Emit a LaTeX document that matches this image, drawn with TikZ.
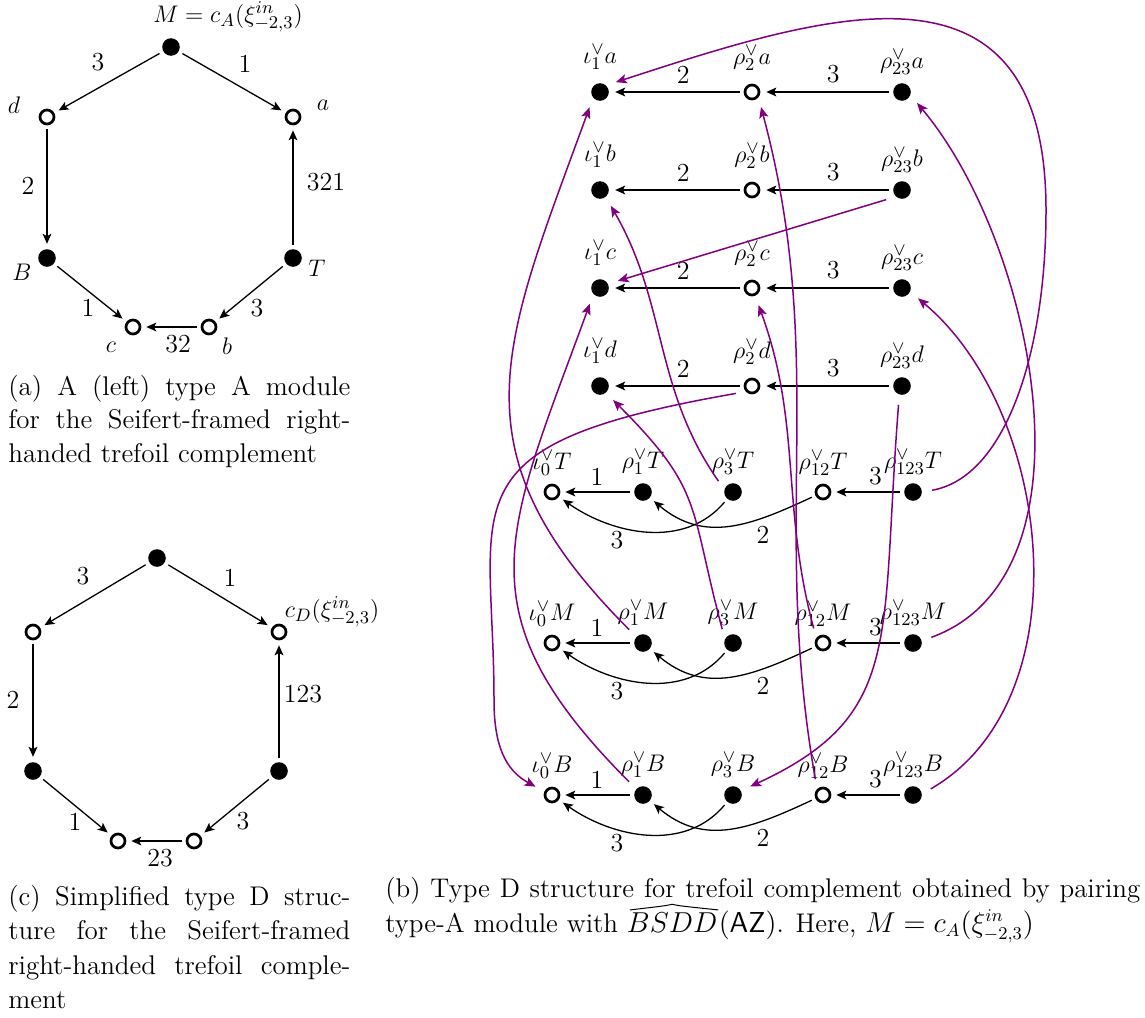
\documentclass[tikz,border=0pt]{standalone}
\usetikzlibrary{arrows.meta}
\definecolor{vio}{RGB}{128,0,128}
\newcommand{\jline}[2]{\makebox[#1][s]{#2}}
\newcommand{\hatBSDD}{\tikz[baseline=(hb.base)]{\node[inner sep=0pt,outer sep=0pt,font=\fontsize{13.5}{16}\selectfont] (hb) {$BSDD$};
  \draw[line width=0.5pt,line join=round] ([xshift=1.5pt,yshift=1.2pt]hb.north west) .. controls ([xshift=-4pt,yshift=3.2pt]hb.north) .. ([yshift=4pt]hb.north) .. controls ([xshift=4pt,yshift=3.2pt]hb.north) .. ([xshift=0.5pt,yshift=1.2pt]hb.north east);}}
\begin{document}
\begin{tikzpicture}[x=0.5pt,y=0.5pt,
 every node/.style={font=\fontsize{12.5}{15}\selectfont},
 fdot/.style={circle,fill=black,inner sep=0pt,minimum size=8.8pt},
 hdot/.style={circle,draw=black,line width=1.35pt,fill=white,inner sep=0pt,minimum size=7pt},
 arr/.style={-{Stealth[length=5pt,width=4.4pt,inset=1.2pt]},line width=0.65pt,shorten >=2.5pt,shorten <=2pt},
 parr/.style={draw=vio,line width=0.75pt,-{Stealth[length=5.5pt,width=4.6pt,inset=1.2pt]},shorten >=5pt,shorten <=5pt},
 elab/.style={inner sep=1pt,font=\fontsize{13}{15}\selectfont},
 capt/.style={anchor=base west,inner sep=0pt,font=\fontsize{13.5}{16}\selectfont}
]
\useasboundingbox (0,0) rectangle (1145,-1017);

% ---------------- (a)
\node[fdot] (aM) at (171,-47) {};
\node[hdot] (ad) at (47,-117) {};
\node[hdot] (aa) at (293,-117) {};
\node[fdot] (aB) at (47,-258) {};
\node[fdot] (aT) at (293,-258) {};
\node[hdot] (ac) at (133,-327) {};
\node[hdot] (ab) at (209,-327) {};
\node (aMl) at (228,-17) {$M=c_A(\xi^{in}_{-2,3})$};
\node (adl) at (14,-105) {$d$};
\node (aal) at (323,-105) {$a$};
\node (aBl) at (22,-272) {$B$};
\node (aTl) at (317,-268) {$T$};
\node (acl) at (111,-347) {$c$};
\node (abl) at (227,-346) {$b$};
\draw[arr] (aM) -- (ad); \node[elab] (ae1) at (98,-62) {3};
\draw[arr] (aM) -- (aa); \node[elab] (ae2) at (245,-64) {1};
\draw[arr] (ad) -- (aB); \node[elab] (ae3) at (28,-186) {2};
\draw[arr] (aT) -- (aa); \node[elab] (ae4) at (326,-182) {321};
\draw[arr] (aB) -- (ac); \node[elab] (ae5) at (88,-308) {1};
\draw[arr] (aT) -- (ab); \node[elab] (ae6) at (257,-308) {3};
\draw[arr] (ab) -- (ac); \node[elab] (ae7) at (178,-344) {32};

\node[capt] (capa1) at (8,-395) {\jline{171pt}{(a) A (left) type A module}};
\node[capt] (capa2) at (8,-428.5) {\jline{171pt}{for the Seifert-framed right-}};
\node[capt] (capa3) at (8,-462) {handed trefoil complement};

% ---------------- (c)
\node[fdot] (cM) at (157,-558) {};
\node[hdot] (cd) at (33,-632) {};
\node[hdot] (ca) at (279,-632) {};
\node[fdot] (cB) at (33,-771) {};
\node[fdot] (cT) at (279,-771) {};
\node[hdot] (cc) at (118,-841) {};
\node[hdot] (cb) at (194,-841) {};
\node (cal) at (332,-612) {$c_D(\xi^{in}_{-2,3})$};
\draw[arr] (cM) -- (cd); \node[elab] (ce1) at (83,-576) {3};
\draw[arr] (cM) -- (ca); \node[elab] (ce2) at (230,-578) {1};
\draw[arr] (cd) -- (cB); \node[elab] (ce3) at (13,-700) {2};
\draw[arr] (cT) -- (ca); \node[elab] (ce4) at (303,-694) {123};
\draw[arr] (cB) -- (cc); \node[elab] (ce5) at (75,-822) {1};
\draw[arr] (cT) -- (cb); \node[elab] (ce6) at (243,-821) {3};
\draw[arr] (cb) -- (cc); \node[elab] (ce7) at (160,-858) {23};

\node[capt] (capc1) at (8,-905) {\jline{171pt}{(c) Simplified type D struc-}};
\node[capt] (capc2) at (8,-939.5) {\jline{171pt}{ture for the Seifert-framed}};
\node[capt] (capc3) at (8,-974) {\jline{171pt}{right-handed trefoil comple-}};
\node[capt] (capc4) at (8,-1008.5) {ment};

% ---------------- (b)
\foreach \r/\y in {a/92,b/190,c/288,d/386}{
  \node[fdot,label={[label distance=3pt]above:$\iota_1^\vee \r$}] (i1\r) at (600,-\y) {};
  \node[hdot,label={[label distance=3pt]above:$\rho_2^\vee \r$}] (r2\r) at (752,-\y) {};
  \node[fdot,label={[label distance=0.5pt]above:$\rho_{23}^\vee \r$}] (r23\r) at (902,-\y) {};
  \draw[arr,shorten >=3pt] (r2\r) -- node[pos=0.45,above=3pt,elab] (l2\r) {2} (i1\r);
  \draw[arr,shorten >=3pt] (r23\r) -- node[pos=0.45,above=3pt,elab] (l3\r) {3} (r2\r);
}
\foreach \r/\y in {T/492,M/643,B/795}{
  \node[hdot,label={[label distance=0.5pt]above:$\iota_0^\vee \r$}] (i0\r) at (552,-\y) {};
  \node[fdot,label={[label distance=0.5pt]above:$\rho_1^\vee \r$}] (r1\r) at (643,-\y) {};
  \node[fdot,label={[label distance=0.5pt]above:$\rho_3^\vee \r$}] (r3\r) at (733,-\y) {};
  \node[hdot,label={[label distance=0.5pt]above:$\rho_{12}^\vee \r$}] (r12\r) at (823,-\y) {};
  \node[fdot,label={[label distance=0.5pt]above:$\rho_{123}^\vee \r$}] (r123\r) at (913,-\y) {};
  \draw[arr] (r1\r) -- node[above=2pt,elab] (l1\r) {1} (i0\r);
  \draw[arr] (r123\r) -- node[pos=0.39,above=2pt,elab] (l4\r) {3} (r12\r);
  \draw[arr] (r3\r) to[out=-130,in=-35] (i0\r);
  \draw[arr] (r12\r) to[out=-155,in=-40,looseness=1.1] (r1\r);
  \node[elab] (l5\r) at (617,-\y-48) {3};
  \node[elab] (l6\r) at (763,-\y-43) {2};
}

% purple connectors
\coordinate (loopR) at (1046,-210);
\draw[parr] (r123T.0) to[out=10,in=-90,out looseness=0.7,in looseness=1.2] (loopR) to[out=90,in=18,out looseness=1.5,in looseness=1.3] (i1a.47);
\draw[parr] (r1M.137) to[out=135,in=-110,looseness=1.25] (i1a.-140);
\draw[parr] (r12B.135) to[out=100,in=-75] (r2a.-40);
\draw[parr] (r123M.14) to[out=20,in=-50,looseness=0.9] (r23a.-21);
\draw[parr] (r3T.163) to[out=125,in=-60] (i1b.-51);
\draw[parr] (r23b.-133) -- (i1c.27);
\draw[parr] (r1B.138) to[out=135,in=-110,looseness=1.3] (i1c.-137);
\draw[parr] (r12M.144) to[out=105,in=-70] (r2c.-68);
\draw[parr] (r123B.7) to[out=30,in=-40,looseness=0.95] (r23c.-25);
\draw[parr] (r3M.153) to[out=105,in=-45,looseness=1.3] (i1d.-49);
\coordinate (w1) at (494,-700);
\draw[parr] (r2d.-137) .. controls (440,-445) and (494,-500) .. (w1) .. controls (494,-745) and (505,-770) .. (i0B.155);
\draw[parr] (r23d.-107) .. controls (880,-640) and (905,-715) .. (r3B.28);

\node[capt] (capb1) at (385,-897) {\jline{377.5pt}{(b) Type D structure for trefoil complement obtained by pairing}};
\node[capt] (capb2) at (385,-932) {type-A module with \hatBSDD$(\mathsf{AZ})$. Here, $M=c_A(\xi^{in}_{-2,3})$};
\end{tikzpicture}
\end{document}
